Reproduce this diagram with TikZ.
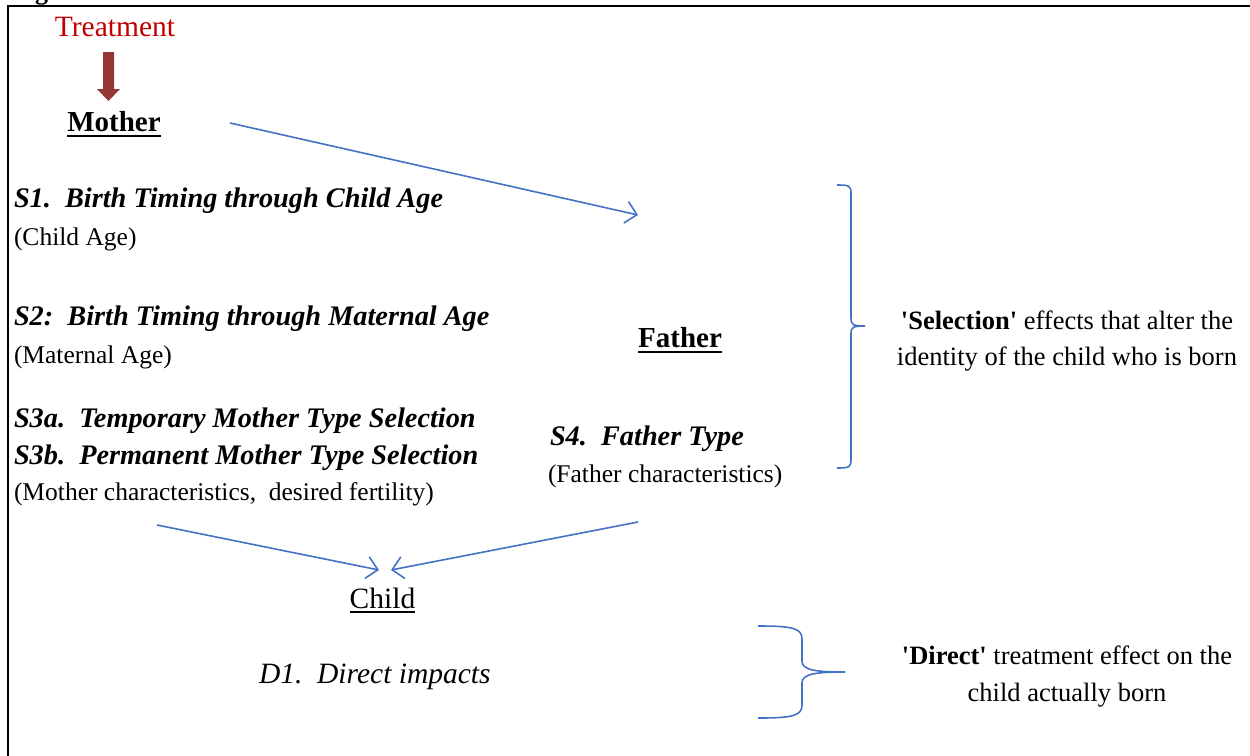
\documentclass[tikz,border=0pt]{standalone}
\usepackage{fontspec}
\setmainfont{Liberation Serif}
\usetikzlibrary{arrows.meta}
\definecolor{linkblue}{RGB}{68,114,196}
\definecolor{treatred}{RGB}{192,0,0}
\definecolor{arrowred}{RGB}{149,55,53}
\tikzset{
  txt/.style={inner sep=0pt, outer sep=0pt},
  heading/.style={txt, anchor=base west, font=\fontsize{28.3}{34}\selectfont\bfseries\itshape},
  body/.style={txt, anchor=base west, font=\fontsize{25.5}{30}\selectfont},
  actor/.style={txt, anchor=base, font=\fontsize{29}{34}\selectfont\bfseries},
  note/.style={txt, anchor=base, font=\fontsize{26.5}{32}\selectfont},
  link/.style={draw=linkblue, line width=1.6pt, -{Straight Barb[length=11pt,width=22pt]}},
  bracepath/.style={draw=linkblue, line width=1.6pt},
  uline/.style={line width=1.6pt},
  frameline/.style={line width=2.2pt},
}
\begin{document}
\begin{tikzpicture}[x=1pt,y=-1pt]
\useasboundingbox (0,0) rectangle (1250,755);

% frame
\draw[frameline] (8,760) -- (8,6) -- (1255,6);
\node[txt, anchor=base west, font=\fontsize{26}{30}\selectfont\bfseries] (fig) at (12,-1) {Fig};

% treatment
\node[txt, anchor=base, text=treatred, font=\fontsize{29.5}{34}\selectfont] (treat) at (115,36) {Treatment};
\coordinate (ra1) at (108.5,52);
\coordinate (ra2) at (108.5,101);
\fill[arrowred] ([xshift=-5.5pt]ra1) -- ([xshift=5.5pt]ra1) -- ([xshift=5.5pt,yshift=12pt]ra2)
  -- ([xshift=11.5pt,yshift=12pt]ra2) -- (ra2) -- ([xshift=-11.5pt,yshift=12pt]ra2)
  -- ([xshift=-5.5pt,yshift=12pt]ra2) -- cycle;

% mother
\node[actor] (mother) at (114,131) {Mother};
\draw[uline] ([yshift=-5pt]mother.base west) -- ([yshift=-5pt]mother.base east);

% left column
\node[heading] (s1) at (14,207) {S1.~~Birth Timing through Child Age};
\node[body] (s1b) at (14,245) {(Child Age)};
\node[heading] (s2) at (14,325) {S2:~~Birth Timing through Maternal Age};
\node[body] (s2b) at (14,363) {(Maternal Age)};
\node[heading] (s3a) at (14,427) {S3a.~~Temporary Mother Type Selection};
\node[heading] (s3b) at (14,464) {S3b.~~Permanent Mother Type Selection};
\node[body] (s3c) at (14,500) {(Mother characteristics,~~desired fertility)};

% father
\node[actor] (father) at (680,347) {Father};
\draw[uline] ([yshift=-5pt]father.base west) -- ([yshift=-5pt]father.base east);
\node[heading] (s4) at (550,445) {S4.~~Father Type};
\node[body] (s4b) at (548,482) {(Father characteristics)};

% child
\node[txt, anchor=base, font=\fontsize{29.5}{34}\selectfont] (child) at (382.5,608) {Child};
\draw[uline] ([yshift=-4pt]child.base west) -- ([yshift=-4pt]child.base east);
\node[txt, anchor=base west, font=\fontsize{29.5}{34}\selectfont\itshape] (d1) at (259,683) {D1.~~Direct impacts};

% arrows
\coordinate (mf1) at (230,123);
\coordinate (mf2) at (638,215);
\draw[link] (mf1) -- (mf2);
\coordinate (mc1) at (157,525);
\coordinate (mc2) at (379,570);
\draw[link] (mc1) -- (mc2);
\coordinate (fc1) at (638,522);
\coordinate (fc2) at (391,570);
\draw[link] (fc1) -- (fc2);

% selection brace
\coordinate (b1top) at (837,185);
\coordinate (b1tip) at (865,326);
\coordinate (b1bot) at (837,468);
\draw[bracepath] (b1top) .. controls (850,185) and (851,186) .. (851,194) -- (851,318)
  .. controls (851,325) and (853,326) .. (b1tip)
  .. controls (853,326) and (851,327) .. (851,334) -- (851,459)
  .. controls (851,467) and (850,468) .. (b1bot);
\node[note] (sel1) at (1067,329) {\textbf{\textquotesingle Selection\textquotesingle} effects that alter the};
\node[note] (sel2) at (1067,365) {identity of the child who is born};

% direct brace
\coordinate (b2top) at (758,626);
\coordinate (b2tip) at (845,672);
\coordinate (b2bot) at (758,718);
\draw[bracepath] (b2top) .. controls (792,626) and (802,628) .. (802,639) -- (802,661)
  .. controls (802,670) and (815,672) .. (b2tip)
  .. controls (815,672) and (802,674) .. (802,683) -- (802,705)
  .. controls (802,716) and (792,718) .. (b2bot);
\node[note] (dir1) at (1067,664) {\textbf{\textquotesingle Direct\textquotesingle} treatment effect on the};
\node[note] (dir2) at (1067,701) {child actually born};
\end{tikzpicture}
\end{document}
